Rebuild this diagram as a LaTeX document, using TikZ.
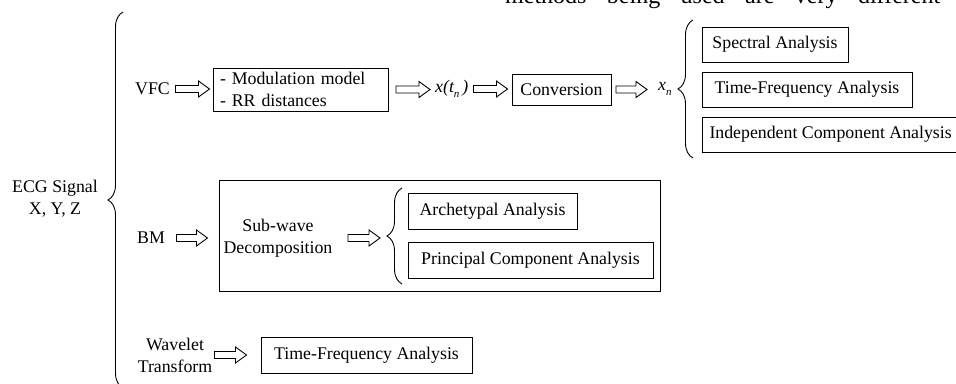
\documentclass[tikz,border=0pt]{standalone}
\usepackage{fontspec}
\setmainfont{Liberation Serif}
\usetikzlibrary{calc,decorations.pathreplacing}
\newcommand\mysub[1]{\raisebox{-4.5pt}{\fontsize{11}{11}\selectfont\itshape #1}}
\def\ag{3pt}
\def\al{34pt}
\begin{document}
\begin{tikzpicture}[x=1pt,y=-1pt,
  every node/.style={font=\fontsize{17.8}{22}\selectfont},
  box/.style={draw, line width=1pt, inner sep=0pt, minimum height=35pt},
  lbl/.style={inner sep=0pt},
  brc/.style={decorate, decoration={brace, amplitude=15pt}, line width=0.9pt},
  agap/.code={\def\ag{#1}},
  alen/.code={\def\al{#1}},
  harrow/.style={line width=0.9pt, to path={let \p1=(\tikztostart), \p2=(\tikztotarget) in
    ({\x2-\ag-\al},{\y1+3.5pt}) -- ({\x2-\ag-11pt},{\y1+3.5pt}) -- ({\x2-\ag-11pt},{\y1+8pt})
    -- ({\x2-\ag},{\y1}) -- ({\x2-\ag-11pt},{\y1-8pt}) -- ({\x2-\ag-11pt},{\y1-3.5pt})
    -- ({\x2-\ag-\al},{\y1-3.5pt}) -- cycle}}
]
\useasboundingbox (0,0) rectangle (956,383);

% cut-off page text
\node[lbl, anchor=base west, font=\fontsize{24}{28}\selectfont] (top) at (505,3.5)
  {\makebox[435pt][s]{methods being used are very different}};

% left
\node[lbl, align=center] (ecg) at (55,199) {ECG Signal\\X, Y, Z};
\draw[brc] (123,388) -- (123,12);

% VFC row
\node[lbl, anchor=west] (vfc) at (135,89) {VFC};
\node[box, inner xsep=7pt, minimum width=175pt, minimum height=43pt, text width=161pt, align=left] (mod) at (300.5,89.5) {- Modulation model\\- RR distances};
\node[lbl, anchor=west] (xt) at (435,89) {\itshape x(t\mysub{n}\,)};
\node[box, minimum width=99pt, minimum height=31pt] (conv) at (561.5,89.5) {Conversion};
\node[lbl, anchor=west] (xn) at (658,89) {\itshape x\mysub{n}};
\draw[brc] (693,158) -- (693,20);
\node[box, minimum width=146pt] (spec) at (775,44.5) {Spectral Analysis};
\node[box, minimum width=210pt] (tfa) at (807,89.5) {Time-Frequency Analysis};
\node[box, anchor=west, inner xsep=7pt] (ica) at (702,134.5) {Independent Component Analysis};

\draw[harrow] (vfc.east) to (mod.west);
\draw[harrow, agap=5pt] (mod.east) to (xt.west);
\draw[harrow, agap=4pt] (xt.east) to (conv.west);
\draw[harrow, agap=11pt, alen=31pt] (conv.east) to (xn.west);

% BM row
\node[lbl, anchor=west] (bm) at (137,238) {BM};
\node[draw, line width=1pt, minimum width=441pt, minimum height=111pt] (bmbox) at (439.5,235.5) {};
\node[lbl, align=center] (sub) at (278,238) {Sub-wave\\Decomposition};
\coordinate (b3tip) at (387,236);
\draw[brc] (402,284) -- (402,188);
\node[box, minimum width=169pt, minimum height=36pt] (arch) at (492.5,211) {Archetypal Analysis};
\node[box, minimum width=245pt, minimum height=36pt] (pca) at (530.5,260) {Principal Component Analysis};

\draw[harrow, agap=11pt, alen=31pt] (bm.east) to (bmbox.west);
\draw[harrow, agap=7pt, alen=32pt] (sub.east) to (b3tip);

% Wavelet row
\node[lbl, align=center] (wav) at (175,355) {Wavelet\\Transform};
\node[box, minimum width=211pt, minimum height=36pt] (tf2) at (366.5,355) {Time-Frequency Analysis};
\draw[harrow, agap=14pt, alen=32pt] (wav.east) to (tf2.west);
\end{tikzpicture}
\end{document}
